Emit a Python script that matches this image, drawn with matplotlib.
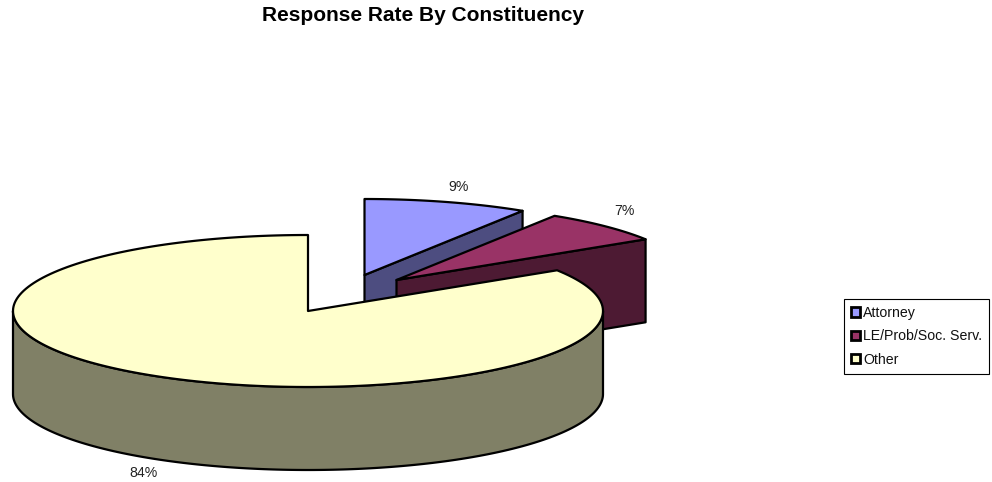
import numpy as np
import matplotlib
matplotlib.use('Agg')
import matplotlib.pyplot as plt
from matplotlib.patches import Polygon, Patch

# Data
categories = ['Attorney', 'LE/Prob/Soc. Serv.', 'Other']
shares = [9, 7, 84]
top_colors = ['#9999FF', '#993366', '#FFFFCC']
side_colors = ['#4D4D80', '#4D1A33', '#808066']

# Pie geometry in pixels (exploded slices have their own centre)
centers = [(364.5, 275), (396.5, 280), (308, 311)]
rx, ry = 295, 76
depth = 83
label_pos = [(459, 187), (624, 211), (144, 473)]

plt.rcParams['font.family'] = ['Liberation Sans', 'DejaVu Sans']

fig = plt.figure(figsize=(9.92, 4.82), dpi=100)
ax = fig.add_axes([0, 0, 1, 1])
ax.set_xlim(0, 992)
ax.set_ylim(482, 0)
ax.axis('off')


def arc(c, t0, t1):
    t = np.radians(np.linspace(t0, t1, 200))
    return np.column_stack([c[0] + rx * np.sin(t), c[1] - ry * np.cos(t)])


edges = np.cumsum([0] + shares) * 3.6
lw = 1.6

for i in range(len(shares)):
    c = np.array(centers[i], dtype=float)
    t0, t1 = edges[i], edges[i + 1]
    down = np.array([0, depth])

    # Cut face of the exploded slices
    if t1 < 180:
        end = arc(c, t1, t1)[0]
        ax.add_patch(Polygon([c, end, end + down, c + down], closed=True,
                             fc=side_colors[i], ec='black', lw=lw, joinstyle='round'))

    # Rim along the front of the pie
    if t1 > 90:
        front = arc(c, max(t0, 90), min(t1, 270))
        ax.add_patch(Polygon(np.vstack([front, front[::-1] + down]), closed=True,
                             fc=side_colors[i], ec='black', lw=lw, joinstyle='round'))

    # Top of the slice
    ax.add_patch(Polygon(np.vstack([c, arc(c, t0, t1)]), closed=True,
                         fc=top_colors[i], ec='black', lw=lw, joinstyle='round'))

    ax.text(label_pos[i][0], label_pos[i][1], '%d%%' % shares[i], fontsize=10.2,
            ha='center', va='center', color='#222222')

ax.text(423, 15.5, 'Response Rate By Constituency', fontsize=15, fontweight='bold',
        ha='center', va='center', color='black')

handles = [Patch(fc=top_colors[i], ec='black', lw=2) for i in range(len(categories))]
leg = ax.legend(handles, categories, loc='upper left', bbox_to_anchor=(844, 299),
                bbox_transform=ax.transData, fontsize=10.2, frameon=True, fancybox=False,
                edgecolor='black', framealpha=1, handlelength=0.65, handleheight=0.65,
                handletextpad=0.2, labelspacing=0.65, borderpad=0.5, borderaxespad=0,
                labelcolor='#111111')
leg.get_frame().set_linewidth(0.8)

fig.savefig('out.png', dpi=100)
